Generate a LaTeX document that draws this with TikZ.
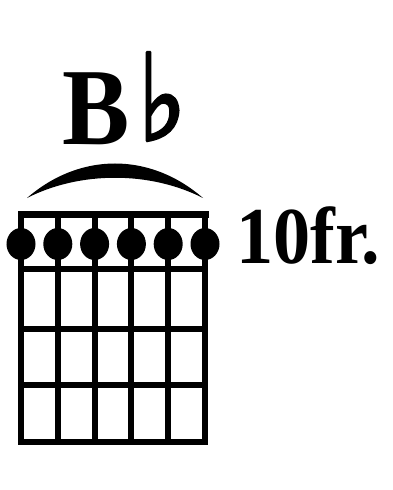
\documentclass[tikz,border=0pt]{standalone}
\usepackage{fontspec}
\usepackage{graphicx}
\usetikzlibrary{shapes.geometric}
\setmainfont{Liberation Serif}
\newfontfamily\symf[FakeBold=3]{DejaVu Sans}
\begin{document}
\begin{tikzpicture}[x=1bp,y=-1bp,
  gridline/.style={line width=6bp,line cap=rect},
  fingerdot/.style={ellipse,fill=black,draw=none,minimum width=29bp,minimum height=32bp,inner sep=0pt},
  txt/.style={inner sep=0pt,anchor=base west}]
\useasboundingbox[fill=white] (0,0) rectangle (392,490);
% chord name
\node[txt,font=\bfseries\fontsize{110}{110}\selectfont] (name) at (62,145) {\scalebox{0.92}[1]{B}};
\node[txt,font=\symf\fontsize{120}{120}\selectfont] (flat) at (138,140) {\scalebox{0.85}[1]{♭}};
% barre arc
\fill (27,198) .. controls (80,152) and (150,152) .. (203,198)
      .. controls (150,171) and (80,171) .. (27,198) -- cycle;
% grid
\foreach \y in {269,329,385}
  \draw[gridline] (21,\y) -- (205,\y);
\draw[gridline,line width=7bp] (21,214.5) -- (205,214.5);
\draw[gridline] (21,442) -- (205,442);
\foreach \x in {21,57.8,94.6,131.4,168.2,205}
  \draw[gridline] (\x,214.5) -- (\x,442);
% dots
\foreach \x [count=\i] in {21,57.8,94.6,131.4,168.2,205}
  \node[fingerdot] (d\i) at (\x,244) {};
% fret label
\node[txt,font=\bfseries\fontsize{81}{81}\selectfont] (fr) at (236,263) {\scalebox{0.92}[1]{10fr.}};
\end{tikzpicture}
\end{document}
